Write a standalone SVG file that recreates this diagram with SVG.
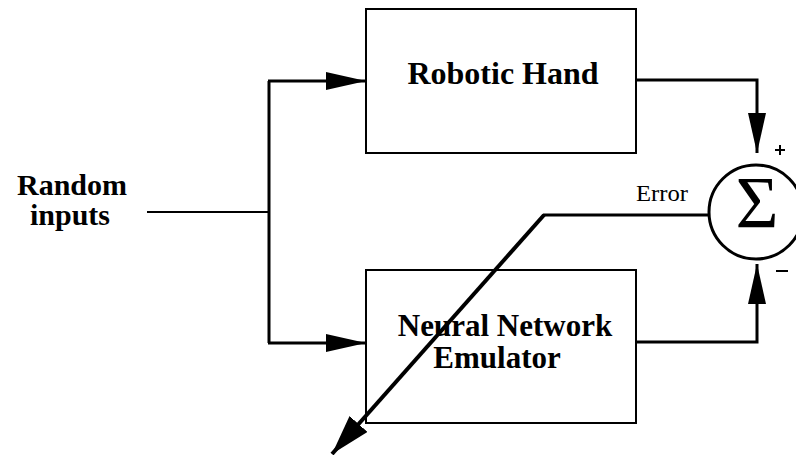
<svg xmlns="http://www.w3.org/2000/svg" width="796" height="455" viewBox="0 0 796 455">
  <style>
    .box { fill: #fff; stroke: #000; stroke-width: 2; }
    .wire { fill: none; stroke: #000; stroke-width: 3; stroke-linejoin: miter; }
    .thin { fill: none; stroke: #000; stroke-width: 2; }
    .label { font-family: "Liberation Serif", "Times New Roman", serif; font-weight: bold; font-size: 32px; fill: #000; text-anchor: middle; }
    .side { font-size: 30px; }
    .nn { font-size: 31px; }
    .small { font-family: "Liberation Serif", "Times New Roman", serif; font-size: 24px; fill: #000; }
  </style>
  <defs>
    <marker id="head" viewBox="0 0 40 18" refX="40" refY="9" markerWidth="40" markerHeight="18" markerUnits="userSpaceOnUse" orient="auto">
      <path d="M0,0 L40,9 L0,18 Z" fill="#000"/>
    </marker>
    <marker id="headErr" viewBox="0 0 40 24" refX="40" refY="12" markerWidth="40" markerHeight="24" markerUnits="userSpaceOnUse" orient="auto">
      <path d="M0,0 L40,12 L0,24 Z" fill="#000"/>
    </marker>
  </defs>

  <rect width="796" height="455" fill="#fff"/>

  <g id="input">
    <text class="label side" x="72" y="195">Random</text>
    <text class="label side" x="70" y="225">inputs</text>
  </g>

  <g id="robotic-hand">
    <rect class="box" x="366" y="9" width="270" height="144"/>
    <text class="label" x="503" y="84">Robotic Hand</text>
  </g>

  <g id="emulator">
    <rect class="box" x="366" y="270" width="270" height="153"/>
    <text class="label nn" x="505" y="336">Neural Network</text>
    <text class="label nn" x="497" y="368">Emulator</text>
  </g>

  <g id="sum">
    <circle cx="756" cy="212" r="47" fill="#fff" stroke="#000" stroke-width="3"/>
    <text x="757" y="228" font-family="'Liberation Serif', 'Times New Roman', serif" font-size="74" text-anchor="middle">Σ</text>
    <path d="M775,150 H785 M780,145 V155" stroke="#000" stroke-width="2"/>
    <path d="M776,271 H788" stroke="#000" stroke-width="2"/>
  </g>

  <g id="connectors">
    <path class="thin" d="M147,212 H269"/>
    <path class="wire" d="M269,81 V343"/>
    <path class="wire" d="M268,81 H366" marker-end="url(#head)"/>
    <path class="wire" d="M268,343 H366" marker-end="url(#head)"/>
    <path class="wire" d="M636,80 H757 V153" marker-end="url(#head)"/>
    <path class="wire" d="M636,342 H757 V264" marker-end="url(#head)"/>
    <path class="wire" d="M709,215 H543"/>
    <path fill="none" stroke="#000" stroke-width="4" d="M544,215 L332,454" marker-end="url(#headErr)"/>
    <text class="small" x="636" y="201" textLength="52" lengthAdjust="spacingAndGlyphs">Error</text>
  </g>
</svg>
